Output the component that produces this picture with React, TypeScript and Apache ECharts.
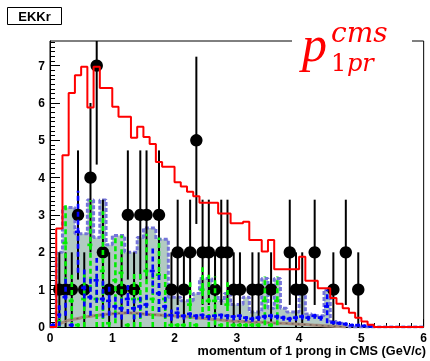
import React, { useEffect, useRef } from 'react';
import * as echarts from 'echarts';

const BIN_WIDTH = 0.1;
const X_MIN = 0;
const X_MAX = 6;
const Y_MAX = 7.66;

const xTickLabels = [0, 1, 2, 3, 4, 5, 6];
const yTickLabels = [0, 1, 2, 3, 4, 5, 6, 7];

// red MC histogram, 60 bins of 0.1
const redMC = [
  0, 2.64, 4.6, 6.27, 6.74, 6.97, 5.88, 6.97, 6.4, 6.4,
  5.9, 5.63, 5.63, 5.07, 5.36, 5.09, 4.9, 4.42, 4.29, 4.29,
  3.88, 3.76, 3.62, 3.5, 3.33, 3.33, 3.33, 3.04, 3.04, 2.78,
  2.78, 2.82, 2.33, 2.33, 2.02, 2.33, 1.55, 1.55, 1.55, 1.55,
  1.88, 1.24, 1.24, 1.04, 1.04, 0.78, 0.62, 0.5, 0.38, 0.25,
  0.15, 0.06, 0, 0, 0, 0, 0, 0, 0, 0,
];

// grey filled background histogram (violet dashed outline)
const fillMC = [
  0, 2.0, 3.2, 3.2, 2.5, 2.5, 3.4, 2.4, 3.4, 2.2,
  2.45, 2.45, 2.0, 2.0, 2.4, 2.65, 2.65, 2.35, 2.35, 0.8,
  0.8, 0.7, 0.7, 0.9, 1.3, 1.3, 0.9, 0.7, 0.9, 0.6,
  0.6, 0.8, 0.4, 0.4, 1.3, 0.5, 1.3, 0.5, 0.4, 0.4,
  1.0, 0.35, 0.3, 0.3, 1.0, 0.15, 0.1, 0.05, 0, 0,
  0, 0, 0, 0, 0, 0, 0, 0, 0, 0,
];

// green dashed histogram with errors
const greenVal = [
  0, 0.15, 2.25, 0.7, 0.05, 0.75, 2.2, 0.75, 1.5, 0.1,
  1.25, 1.45, 0.05, 0.75, 0.75, 1.5, 0.75, 1.4, 0.75, 0.05,
  0.05, 0.05, 0.6, 0.05, 1.0, 0.7, 0.7, 0.05, 0.6, 0.05,
  0.05, 0.05, 0.05, 0.05, 0.7, 0.05, 0.7, 0, 0, 0,
  0, 0, 0, 0, 0, 0, 0, 0, 0, 0,
  0, 0, 0, 0, 0, 0, 0, 0, 0, 0,
];
const greenErr = [
  0, 0.15, 1.05, 0.7, 0.05, 0.75, 1.2, 0.75, 1.6, 0.1,
  1.15, 1.0, 0.05, 0.75, 0.75, 1.0, 0.75, 1.0, 0.75, 0.05,
  0.05, 0.05, 0.6, 0.05, 0.6, 0.7, 0.65, 0.05, 0.6, 0.05,
  0.05, 0.05, 0.05, 0.05, 0.65, 0.05, 0.65, 0, 0, 0,
  0, 0, 0, 0, 0, 0, 0, 0, 0, 0,
  0, 0, 0, 0, 0, 0, 0, 0, 0, 0,
];

// blue dashed histogram with errors
const blueVal = [
  0.05, 0.32, 0.8, 0.05, 2.55, 1.05, 0.8, 1.25, 0.75, 0.7,
  0.55, 0.5, 0.75, 0.5, 0.55, 0.6, 1.5, 0.9, 0.55, 0.32,
  0.38, 0.3, 0.35, 0.3, 0.32, 0.28, 0.3, 0.32, 0.3, 0.28,
  0.3, 0.25, 0.22, 0.25, 0.28, 0.3, 0.28, 0.25, 0.22, 0.25,
  0.28, 0.25, 0.3, 0.25, 0.55, 0.12, 0.1, 0.08, 0.05, 0.05,
  0.03, 0.02, 0, 0, 0, 0, 0, 0, 0, 0,
];
const blueErr = [
  0.05, 0.3, 0.5, 0.05, 1.1, 0.5, 0.5, 0.6, 0.5, 0.4,
  0.3, 0.3, 0.4, 0.3, 0.3, 0.3, 0.6, 0.5, 0.3, 0.15,
  0.15, 0.1, 0.1, 0.1, 0.1, 0.1, 0.1, 0.1, 0.1, 0.1,
  0.1, 0.1, 0.08, 0.08, 0.08, 0.08, 0.08, 0.08, 0.08, 0.08,
  0.08, 0.08, 0.08, 0.08, 0.45, 0.05, 0.05, 0.04, 0.03, 0.03,
  0.02, 0.02, 0, 0, 0, 0, 0, 0, 0, 0,
];

// brown smooth background curve at bin centres
const brownVal = [
  null, 0.08, 0.15, 0.2, 0.23, 0.27, 0.29, 0.31, 0.33, 0.35,
  0.36, 0.37, 0.38, 0.37, 0.36, 0.34, 0.33, 0.32, 0.31, 0.3,
  0.29, 0.28, 0.27, 0.25, 0.23, 0.22, 0.2, 0.19, 0.17, 0.16,
  0.15, 0.14, 0.13, 0.13, 0.12, 0.11, 0.1, 0.1, 0.09, 0.08,
  0.07, 0.06, 0.05, 0.04, 0.03, 0.02, 0.01, 0.0,
];

// data points
const dataBin = [1, 2, 3, 4, 5, 6, 7, 8, 9, 11, 12, 13, 14, 15, 17, 19, 20, 21, 22, 23, 24, 25, 26, 27, 28, 29, 30, 32, 33, 35, 38, 39, 40, 42, 45, 47, 49];
const dataCount = [1, 1, 1, 3, 1, 4, 7, 2, 1, 1, 3, 1, 3, 3, 3, 1, 2, 1, 2, 5, 2, 2, 1, 2, 2, 1, 1, 1, 1, 1, 2, 1, 1, 2, 1, 2, 1];
const dataErr = [1, 1, 1, 1.73, 1, 2, 2.65, 1.41, 1, 1, 1.73, 1, 1.73, 1.73, 1.73, 1, 1.41, 1, 1.41, 2.24, 1.41, 1.41, 1, 1.41, 1.41, 1, 1, 1, 1, 1, 1.41, 1, 1, 1.41, 1, 1.41, 1];

const stepData = (vals: number[]) => {
  const out: number[][] = vals.map((v, k) => [k * BIN_WIDTH, v]);
  out.push([vals.length * BIN_WIDTH, vals[vals.length - 1]]);
  return out;
};

const errHist = (vals: number[], errs: number[], color: string, z: number) => ({
  type: 'custom',
  z,
  data: vals.map((v, k) => [k * BIN_WIDTH, v, errs[k]]),
  renderItem: (params: any, api: any) => {
    const x0 = api.value(0);
    const v = api.value(1);
    const e = api.value(2);
    if (v <= 0 && e <= 0) return null;
    const pl = api.coord([x0, v]);
    const pr = api.coord([x0 + BIN_WIDTH, v]);
    const xc = (pl[0] + pr[0]) / 2;
    const lo = api.coord([x0, Math.max(0, v - e)]);
    const hi = api.coord([x0, Math.min(Y_MAX, v + e)]);
    const dash = [5, 3];
    return {
      type: 'group',
      children: [
        { type: 'line', shape: { x1: xc, y1: lo[1], x2: xc, y2: hi[1] }, style: { stroke: color, lineWidth: 2.6, lineDash: dash } },
        { type: 'line', shape: { x1: pl[0], y1: pl[1], x2: pr[0], y2: pr[1] }, style: { stroke: color, lineWidth: 2.6, lineDash: dash } },
        { type: 'circle', shape: { cx: xc, cy: pl[1], r: 1.6 }, style: { fill: color } },
      ],
    };
  },
});

const minorY: number[] = [];
for (let i = 0; i < 62; i++) {
  if (i % 8 !== 0) minorY.push(i / 8);
}

export default function App() {
  const ref = useRef<HTMLDivElement>(null);
  useEffect(() => {
    if (!ref.current) return;
    const chart = echarts.init(ref.current, null, { renderer: 'svg' });
    const labelFont = { color: '#000', fontFamily: 'Liberation Sans', fontWeight: 'bold' as const, fontSize: 12 };
    chart.setOption({
      animation: false,
      grid: { left: 50, right: 4, top: 41, bottom: 34, show: true, borderColor: '#000', borderWidth: 1, backgroundColor: 'transparent' },
      xAxis: {
        type: 'value', min: X_MIN, max: X_MAX, interval: 1,
        axisLine: { show: true, lineStyle: { color: '#000', width: 1 } },
        axisTick: { show: true, inside: true, length: 8, lineStyle: { color: '#000', width: 1 } },
        minorTick: { show: true, splitNumber: 5, length: 4, lineStyle: { color: '#000', width: 1 } },
        axisLabel: { ...labelFont, margin: 5, customValues: xTickLabels },
        splitLine: { show: false },
      },
      yAxis: [
        {
          type: 'value', min: 0, max: Y_MAX, position: 'left',
          axisLine: { show: true, lineStyle: { color: '#000', width: 1 } },
          axisTick: { show: true, inside: true, length: 10, customValues: yTickLabels, lineStyle: { color: '#000', width: 1 } },
          axisLabel: { ...labelFont, margin: 5, customValues: yTickLabels },
          splitLine: { show: false },
        },
        {
          type: 'value', min: 0, max: Y_MAX, position: 'left', offset: 0,
          axisLine: { show: false },
          axisTick: { show: true, inside: true, length: 5, customValues: minorY, lineStyle: { color: '#000', width: 1 } },
          axisLabel: { show: false },
          splitLine: { show: false },
        },
      ],
      series: [
        {
          type: 'line', step: 'end', data: stepData(fillMC), symbol: 'none', z: 1,
          lineStyle: { color: '#7474da', width: 3, type: [4, 2] },
          areaStyle: { color: '#b2cac2', opacity: 1 },
        },
        {
          type: 'custom', z: 2,
          data: dataBin.map((b, i) => [b * BIN_WIDTH + BIN_WIDTH / 2, dataCount[i], dataErr[i]]),
          renderItem: (params: any, api: any) => {
            const x = api.value(0);
            const v = api.value(1);
            const e = api.value(2);
            const c = api.coord([x, v]);
            const lo = api.coord([x, Math.max(0, v - e)]);
            const hi = api.coord([x, Math.min(Y_MAX, v + e)]);
            return {
              type: 'group',
              children: [
                { type: 'line', shape: { x1: c[0], y1: lo[1], x2: c[0], y2: hi[1] }, style: { stroke: '#000', lineWidth: 2 } },
                { type: 'circle', shape: { cx: c[0], cy: c[1], r: 6.2 }, style: { fill: '#000' } },
              ],
            };
          },
        },
        {
          type: 'line', smooth: true, z: 3, symbol: 'none',
          data: brownVal.map((v, k) => [k * BIN_WIDTH + BIN_WIDTH / 2, v]).filter((p) => p[1] !== null),
          lineStyle: { color: '#a48c7c', width: 3 },
        },
        {
          type: 'line', smooth: true, z: 3, symbol: 'none',
          data: brownVal.map((v, k) => [k * BIN_WIDTH + BIN_WIDTH / 2, v]).filter((p) => p[1] !== null),
          lineStyle: { color: '#6a5a55', width: 1.2, type: [2, 4] },
        },
        errHist(greenVal, greenErr, '#00ee00', 4),
        errHist(blueVal, blueErr, '#0000ff', 5),
        {
          type: 'line', step: 'end', data: stepData(redMC), symbol: 'none', z: 6,
          lineStyle: { color: '#ff0000', width: 2 },
        },
      ],
      graphic: [
        { type: 'rect', z: 100, shape: { x: 292, y: 26, width: 120, height: 20 }, style: { fill: '#fff' } },
        { type: 'text', z: 101, style: { text: 'p', x: 302, y: 44, font: 'italic 50px "Liberation Serif"', lineHeight: 30, fill: '#ff0000', verticalAlign: 'middle', align: 'left' } },
        { type: 'text', z: 101, style: { text: 'cms', x: 331, y: 32, font: 'italic 28px "DejaVu Serif"', lineHeight: 18, fill: '#ff0000', verticalAlign: 'middle', align: 'left', letterSpacing: 1.5 } },
        { type: 'text', z: 101, style: { text: '1', x: 331, y: 62.5, font: '24px "DejaVu Serif"', lineHeight: 16, fill: '#ff0000', verticalAlign: 'middle', align: 'left' } },
        { type: 'text', z: 101, style: { text: 'pr', x: 347, y: 62.5, font: 'italic 24px "DejaVu Serif"', lineHeight: 16, fill: '#ff0000', verticalAlign: 'middle', align: 'left' } },
        { type: 'rect', z: 100, shape: { x: 7.5, y: 7.5, width: 54, height: 17 }, style: { fill: '#fff', stroke: '#000', lineWidth: 1 } },
        { type: 'text', z: 101, style: { text: 'EKKr', x: 34.5, y: 16.5, font: 'bold 13px "Liberation Sans"', fill: '#000', verticalAlign: 'middle', align: 'center' } },
        { type: 'text', z: 101, style: { text: 'momentum of 1 prong in CMS (GeV/c)', x: 426, y: 350.5, font: 'bold 12.7px "Liberation Sans"', fill: '#000', verticalAlign: 'middle', align: 'right' } },
      ],
    });
    return () => chart.dispose();
  }, []);
  return <div ref={ref} style={{ position: 'fixed', left: 0, top: 0, width: 430, height: 361 }} />;
}
